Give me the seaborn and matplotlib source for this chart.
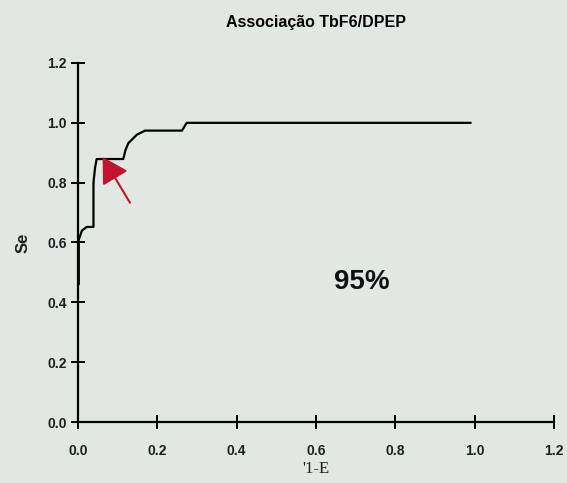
import matplotlib
matplotlib.use("Agg")
import matplotlib.pyplot as plt
import seaborn as sns
import pandas as pd

# ROC curve points
fpr = [0.002, 0.002, 0.010, 0.022, 0.039, 0.039, 0.043, 0.047, 0.114, 0.120, 0.127, 0.148, 0.169, 0.262, 0.274, 0.990]
tpr = [0.460, 0.610, 0.640, 0.652, 0.652, 0.800, 0.850, 0.879, 0.879, 0.910, 0.932, 0.960, 0.974, 0.974, 1.000, 1.000]
ticks = [0.0, 0.2, 0.4, 0.6, 0.8, 1.0, 1.2]
tick_labels = ["0.0", "0.2", "0.4", "0.6", "0.8", "1.0", "1.2"]
title = "Associação TbF6/DPEP"
auc_label = "95%"
xlabel = "'1-E"
ylabel = "Se"

sns.set_theme(style="ticks")
plt.rcParams["font.family"] = ["Liberation Sans", "DejaVu Sans"]

bg = "#e1e7e3"
fig = plt.figure(figsize=(5.67, 4.83), dpi=100, facecolor=bg)
ax = fig.add_axes([78 / 567, (483 - 422) / 483, 476 / 567, 359 / 483])
ax.set_facecolor(bg)

df = pd.DataFrame({"fpr": fpr, "tpr": tpr})
sns.lineplot(data=df, x="fpr", y="tpr", sort=False, estimator=None,
             color="black", linewidth=1.6, ax=ax)

ax.set_xlim(0, 1.2)
ax.set_ylim(0, 1.2)
ax.set_xticks(ticks)
ax.set_xticklabels(tick_labels)
ax.set_yticks(ticks)
ax.set_yticklabels(tick_labels)

for s in ["top", "right"]:
    ax.spines[s].set_visible(False)
for s in ["left", "bottom"]:
    ax.spines[s].set_linewidth(1.6)
    ax.spines[s].set_color("black")
    ax.spines[s].set_clip_on(False)

ax.tick_params(axis="both", direction="inout", length=10, width=1.4,
               color="black", labelcolor="#202020", labelsize=10)
ax.tick_params(axis="x", pad=11)
ax.tick_params(axis="y", pad=3)
for lab in ax.get_xticklabels() + ax.get_yticklabels():
    lab.set_fontweight("bold")

ax.set_xlabel(xlabel, family=["Liberation Serif", "DejaVu Serif"], fontsize=12,
              color="#202020", labelpad=2)
ax.set_ylabel(ylabel, family=["Liberation Sans", "DejaVu Sans"], fontsize=12,
              fontweight="bold", color="#202020", labelpad=12)

fig.text(316 / 567, 1 - 22 / 483, title, ha="center", va="center",
         fontsize=11.5, fontweight="bold", color="black")

ax.text(0.716, 0.468, auc_label, ha="center", va="center",
        fontsize=20, fontweight="bold", color="#111111")

ax.annotate("", xy=(0.062, 0.886), xytext=(0.131, 0.733),
            arrowprops=dict(arrowstyle="-|>,head_length=1.3,head_width=0.75",
                            color="#c4132f", lw=1.5, shrinkA=0, shrinkB=0))

fig.savefig("out.png", dpi=100, facecolor=bg)
